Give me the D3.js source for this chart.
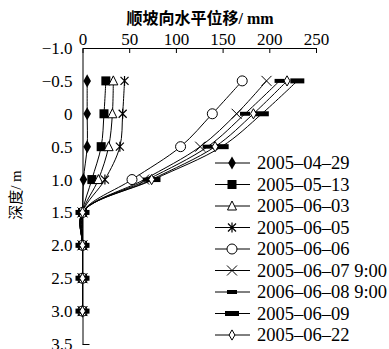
<!DOCTYPE html>
<html>
<head>
<meta charset="utf-8">
<script src="https://cdn.jsdelivr.net/npm/d3@7"></script>
<style>
  body { margin: 0; background: #fff; }
  text { font-family: "Liberation Serif", "Noto Sans CJK SC", serif; fill: #000; }
</style>
</head>
<body>
<svg width="389" height="349"></svg>
<script>
const svg = d3.select("svg");

// depths (m)
const depths = [-0.5, 0, 0.5, 1.0, 1.5, 2.0, 2.5, 3.0];
const seriesNames = ["2005\u201304\u201329", "2005\u201305\u201313", "2005\u201306\u201303", "2005\u201306\u201305",
  "2005\u201306\u201306", "2005\u201306\u201307 9:00", "2006\u201306\u201308 9:00", "2005\u201306\u201309", "2005\u201306\u201322"];
const markers = ["diamond", "square", "triangle", "star", "circle", "cross", "dash", "bar", "odiamond"];
// horizontal displacement (mm)
const s0429 = [5, 5, 5, 1, 0, 0, 0, 0];
const s0513 = [25, 23, 20, 10, 0, 0, 0, 0];
const s0603 = [33, 32, 28, 17, 0, 0, 0, 0];
const s0605 = [45, 43, 40, 24, 0, 0, 0, 0];
const s0606 = [171, 139, 105, 53, 0, 0, 0, 0];
const s0607 = [197, 165, 126, 66, 0, 0, 0, 0];
const s0608 = [211, 174, 134, 70, 0, 0, 0, 0];
const s0609 = [230, 192, 149, 76, 0, 0, 0, 0];
const s0622 = [219, 183, 142, 74, 0, 0, 0, 0];
const allSeries = [s0429, s0513, s0603, s0605, s0606, s0607, s0608, s0609, s0622];

const xTicks = [0, 50, 100, 150, 200, 250];
const yTicks = [-1.0, -0.5, 0, 0.5, 1.0, 1.5, 2.0, 2.5, 3.0, 3.5];

const x = d3.scaleLinear().domain([0, 250]).range([82.5, 316]);
const y = d3.scaleLinear().domain([-1.0, 3.5]).range([48, 344]);

// top axis
const xAxis = svg.append("g")
  .attr("transform", `translate(0,${y(-1.0)})`)
  .call(d3.axisTop(x).tickValues(xTicks).tickSizeInner(-5).tickSizeOuter(0).tickPadding(3));
xAxis.selectAll("text").attr("font-size", 17).attr("font-family", "Liberation Serif");
xAxis.select(".domain").attr("stroke", "#000");

// left axis
const fmt = v => v === 0 ? "0" : (v < 0 ? "\u2212" : "") + Math.abs(v).toFixed(1);
const yAxis = svg.append("g")
  .attr("transform", `translate(${x(0)},0)`)
  .call(d3.axisLeft(y).tickValues(yTicks).tickFormat(fmt).tickSizeInner(0).tickSizeOuter(0).tickPadding(10));
yAxis.selectAll("text").attr("font-size", 17).attr("font-family", "Liberation Serif");
yAxis.selectAll(".tick line").filter(d => d === 3.5).attr("x2", 7).attr("stroke", "#000");
yAxis.select(".domain").attr("stroke", "#000");

// titles
svg.append("text")
  .attr("x", 200).attr("y", 24)
  .attr("text-anchor", "middle")
  .attr("font-size", 16)
  .attr("font-weight", "bold")
  .text("顺坡向水平位移/ mm");

svg.append("text")
  .attr("transform", "translate(21,195) rotate(-90)")
  .attr("text-anchor", "middle")
  .attr("font-size", 15)
  .text("深度/ m");

// marker drawing
function drawMarker(g, type, cx, cy) {
  if (type === "diamond") {
    g.append("path").attr("d", d3.symbol(d3.symbolDiamond, 50)())
      .attr("transform", `translate(${cx},${cy})`).attr("fill", "#000");
  } else if (type === "square") {
    g.append("rect").attr("x", cx - 4.5).attr("y", cy - 4.5).attr("width", 9).attr("height", 9).attr("fill", "#000");
  } else if (type === "triangle") {
    g.append("path").attr("d", `M${cx},${cy - 5}L${cx + 4.5},${cy + 4}L${cx - 4.5},${cy + 4}Z`)
      .attr("fill", "#fff").attr("stroke", "#000");
  } else if (type === "star") {
    g.append("path").attr("d", `M${cx - 4},${cy - 4}L${cx + 4},${cy + 4}M${cx + 4},${cy - 4}L${cx - 4},${cy + 4}M${cx},${cy - 5}L${cx},${cy + 5}`)
      .attr("stroke", "#000").attr("stroke-width", 1.2);
  } else if (type === "circle") {
    g.append("circle").attr("cx", cx).attr("cy", cy).attr("r", 5).attr("fill", "#fff").attr("stroke", "#000");
  } else if (type === "cross") {
    g.append("path").attr("d", `M${cx - 5},${cy - 5}L${cx + 5},${cy + 5}M${cx + 5},${cy - 5}L${cx - 5},${cy + 5}`)
      .attr("stroke", "#000").attr("stroke-width", 1);
  } else if (type === "dash") {
    g.append("rect").attr("x", cx - 5).attr("y", cy - 2).attr("width", 10).attr("height", 4).attr("fill", "#000");
  } else if (type === "bar") {
    g.append("rect").attr("x", cx - 7).attr("y", cy - 2.5).attr("width", 14).attr("height", 5).attr("fill", "#000");
  } else if (type === "odiamond") {
    g.append("path").attr("d", d3.symbol(d3.symbolDiamond, 30)())
      .attr("transform", `translate(${cx},${cy})`).attr("fill", "#fff").attr("stroke", "#000");
  }
}

const line = d3.line()
  .x(d => x(d[1]))
  .y(d => y(d[0]))
  .curve(d3.curveCatmullRom.alpha(0.5));

const plot = svg.append("g");
allSeries.forEach((vals, i) => {
  const pts = depths.map((d, j) => [d, vals[j]]);
  plot.append("path").datum(pts)
    .attr("d", line)
    .attr("fill", "none")
    .attr("stroke", "#000")
    .attr("stroke-width", 1);
});
allSeries.forEach((vals, i) => {
  const g = plot.append("g");
  depths.forEach((d, j) => drawMarker(g, markers[i], x(vals[j]), y(d)));
});

// legend
const legend = svg.append("g");
seriesNames.forEach((name, i) => {
  const ly = 163 + i * 21.5;
  legend.append("line").attr("x1", 215).attr("x2", 250).attr("y1", ly).attr("y2", ly)
    .attr("stroke", "#000").attr("stroke-width", 1);
  drawMarker(legend, markers[i], 232, ly);
  legend.append("text").attr("x", 257).attr("y", ly + 6)
    .attr("font-size", 18.5)
    .text(name);
});
</script>
</body>
</html>
